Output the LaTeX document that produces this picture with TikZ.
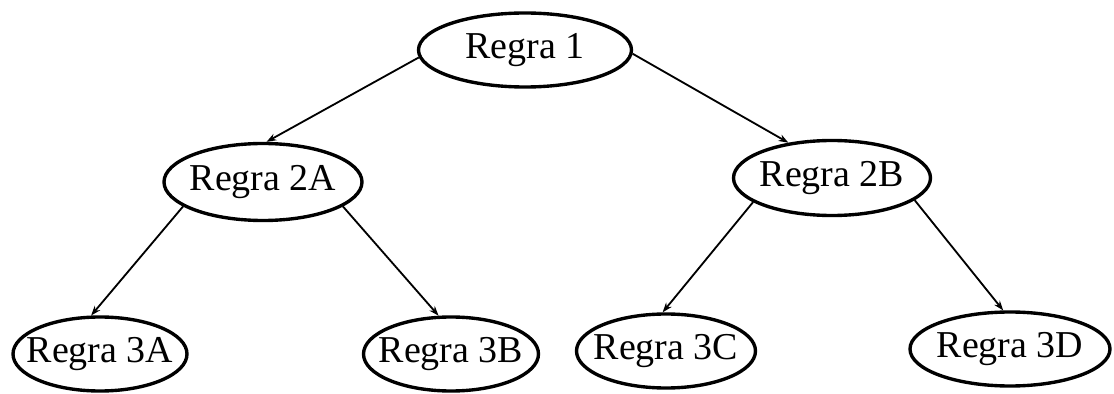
\documentclass[tikz,border=0pt]{standalone}
\usepackage{fontspec}
\setmainfont{Liberation Serif}
\usetikzlibrary{arrows.meta,shapes.geometric}

\begin{document}
\begin{tikzpicture}[x=0.025cm,y=-0.025cm,
    rule/.style 2 args={ellipse,draw,line width=2.4pt,inner sep=0pt,
        minimum width={#1*0.025cm},minimum height={#2*0.025cm}},
    link/.style={line width=1.3pt,-{Stealth[length=7pt,width=5pt]}},
    every label/.style={font=\fontsize{27}{31}\selectfont,inner sep=0pt}]
    \useasboundingbox (0,0) rectangle (1114,394);
    % rule tree
    \node[rule={213}{74},label=center:{Regra 1}] (r1) at (525,50) {};
    \node[rule={198}{77},label=center:{Regra 2A}] (r2a) at (263,182) {};
    \node[rule={197}{75},label=center:{Regra 2B}] (r2b) at (832,178) {};
    \node[rule={174}{74},label=center:{Regra 3A}] (r3a) at (100,354) {};
    \node[rule={175}{74},label=center:{Regra 3B}] (r3b) at (451,354) {};
    \node[rule={179}{74},label=center:{Regra 3C}] (r3c) at (666,351) {};
    \node[rule={200}{74},label=center:{Regra 3D}] (r3d) at (1010,349) {};
    \draw[link] (r1.184) -- (r2a.85);
    \draw[link] (r1.358) -- (r2b.141);
    \draw[link] (r2a.197) -- (r3a.103);
    \draw[link] (r2a.343) -- (r3b.108);
    \draw[link] (r2b.197) -- (r3c.95);
    \draw[link] (r2b.345) -- (r3d.100);
\end{tikzpicture}
\end{document}
